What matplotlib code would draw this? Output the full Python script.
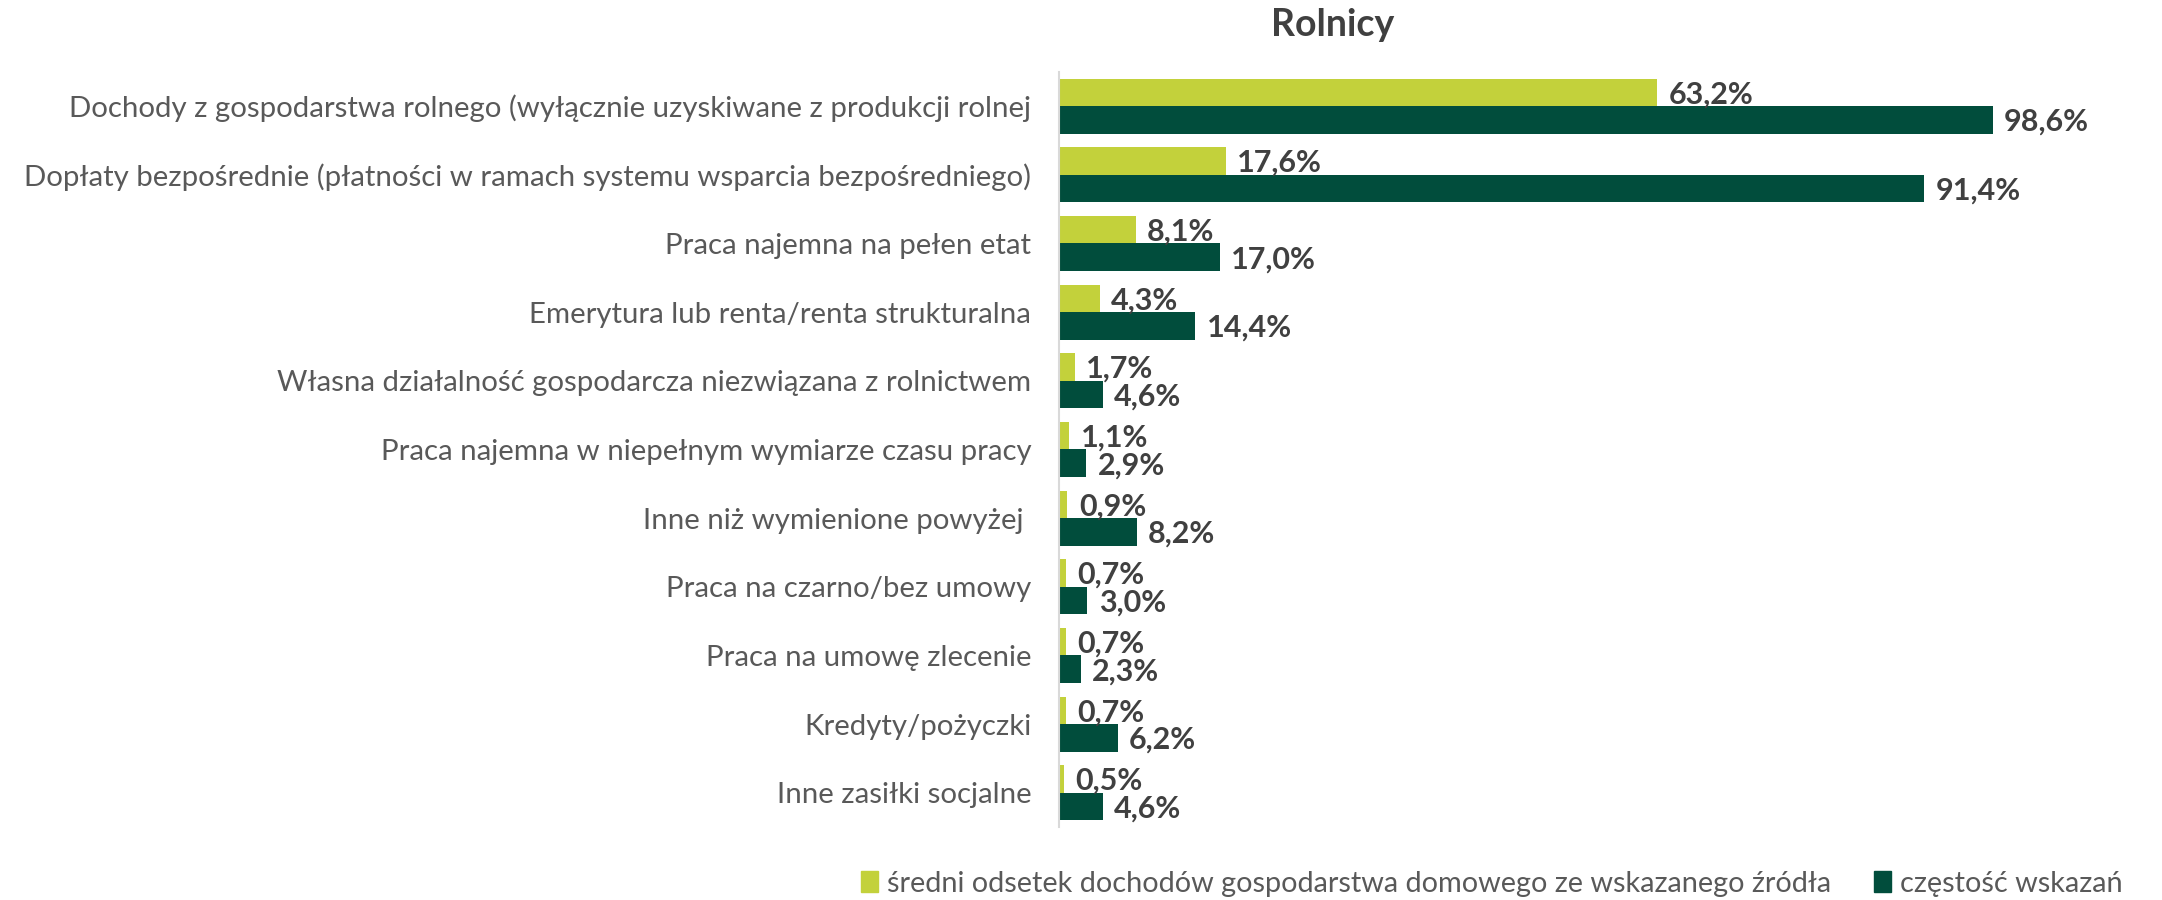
import matplotlib.pyplot as plt
from matplotlib.patches import Patch
import numpy as np

plt.rcParams['font.family'] = ['Lato', 'DejaVu Sans']

categories = [
    "Dochody z gospodarstwa rolnego (wyłącznie uzyskiwane z produkcji rolnej",
    "Dopłaty bezpośrednie (płatności w ramach systemu wsparcia bezpośredniego)",
    "Praca najemna na pełen etat",
    "Emerytura lub renta/renta strukturalna",
    "Własna działalność gospodarcza niezwiązana z rolnictwem",
    "Praca najemna w niepełnym wymiarze czasu pracy",
    "Inne niż wymienione powyżej ",
    "Praca na czarno/bez umowy",
    "Praca na umowę zlecenie",
    "Kredyty/pożyczki",
    "Inne zasiłki socjalne",
]
sredni_odsetek = [63.2, 17.6, 8.1, 4.3, 1.7, 1.1, 0.9, 0.7, 0.7, 0.7, 0.5]
czestosc = [98.6, 91.4, 17.0, 14.4, 4.6, 2.9, 8.2, 3.0, 2.3, 6.2, 4.6]
series_names = ["średni odsetek dochodów gospodarstwa domowego ze wskazanego źródła",
                "częstość wskazań"]

light = '#C3D13B'
dark = '#014D3C'
label_col = '#595959'
val_col = '#404040'

fig = plt.figure(figsize=(21.62, 9), dpi=100)
ax = fig.add_axes([0.4898, 0.081, 0.5102, 0.8393])

y = np.arange(len(categories))
h = 0.4
ax.barh(y - h / 2, sredni_odsetek, height=h, color=light)
ax.barh(y + h / 2, czestosc, height=h, color=dark)

for yi, v in zip(y, sredni_odsetek):
    ax.text(v + 1.2, yi - h / 2 + 0.03, f"{v:.1f}%".replace('.', ','), va='center', ha='left',
            fontsize=22, fontweight='bold', color=val_col)
for yi, v in zip(y, czestosc):
    ax.text(v + 1.2, yi + h / 2 + 0.03, f"{v:.1f}%".replace('.', ','), va='center', ha='left',
            fontsize=22, fontweight='bold', color=val_col)

ax.set_xlim(0, 116.5)
ax.set_ylim(len(categories) - 0.5, -0.5)
ax.set_yticks(y)
ax.set_yticklabels(categories, fontsize=21.2, color=label_col)
ax.tick_params(axis='y', length=0, pad=20)
ax.set_xticks([])
for s in ['top', 'right', 'bottom']:
    ax.spines[s].set_visible(False)
ax.spines['left'].set_color('#D9D9D9')
ax.spines['left'].set_linewidth(1.5)

fig.text(0.6166, 0.972, "Rolnicy", ha='center', va='center', fontsize=27,
         fontweight='bold', color=val_col)

handles = [Patch(color=light), Patch(color=dark)]
fig.legend(handles, series_names, loc='center left', bbox_to_anchor=(0.386, 0.018),
           ncol=2, frameon=False, fontsize=20.8, labelcolor=label_col,
           handlelength=0.6, handleheight=0.75, handletextpad=0.3, columnspacing=1.5)

fig.savefig('out.png', dpi=100)
